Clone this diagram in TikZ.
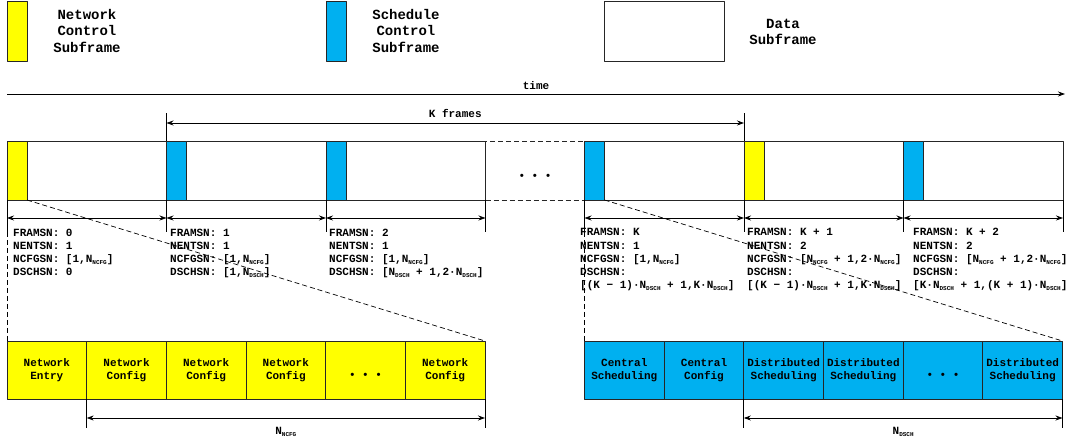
\documentclass[tikz,border=0pt]{standalone}
\usepackage{fontspec}
\setmonofont{Liberation Mono}
\usetikzlibrary{arrows.meta,positioning,calc}
\definecolor{ncyellow}{HTML}{FFFF00}
\definecolor{scblue}{HTML}{00B0F0}
\newcommand{\Nsub}[1]{N\raisebox{-0.3ex}{\fontsize{6}{6}\selectfont#1}}
\tikzset{
  box/.style={draw=black!85, line width=0.8pt, inner sep=0pt, outer sep=0pt, anchor=north west},
  frm/.style={box, minimum width=159.5pt, minimum height=59pt},
  ctl/.style={box, minimum width=20pt, minimum height=59pt},
  cell/.style={box, minimum width=79.67pt, minimum height=58pt, align=center},
  dots/.style={text height=18pt, text depth=0pt},
  lbl/.style={anchor=base west, align=left, inner sep=0pt},
  legtxt/.style={align=center, font=\ttfamily\bfseries\fontsize{14}{16.7}\selectfont},
  dim/.style={<->, line width=0.8pt},
  tick/.style={line width=0.8pt},
  zoomln/.style={dash pattern=on 5pt off 3pt, line width=0.7pt}
}
\begin{document}
\begin{tikzpicture}[x=1pt, y=-1pt, font=\ttfamily\bfseries\fontsize{11}{13.3}\selectfont, line join=round, >={Stealth[length=7pt,width=5pt]}]
  \useasboundingbox (0,0) rectangle (1080,443);
  % legend
  \node[ctl, fill=ncyellow, minimum height=60pt] (lgN) at (7,1.5) {};
  \node[legtxt] (lgNt) at (87,31) {Network\\Control\\Subframe};
  \node[ctl, fill=scblue, minimum height=60pt] (lgS) at (326,1.5) {};
  \node[legtxt] (lgSt) at (406,31) {Schedule\\Control\\Subframe};
  \node[box, minimum width=120pt, minimum height=60pt] (lgD) at (604,1.5) {};
  \node[legtxt] (lgDt) at (783,32) {Data\\Subframe};
  % time axis
  \coordinate (t0) at (7,94);
  \coordinate (t1) at (1065,94);
  \draw[->, line width=0.8pt] (t0) -- (t1) node[midway, above=1pt] {time};
  % frames
  \node[frm] (f0) at (7,141) {};
  \node[frm] (f1) at (166.5,141) {};
  \node[frm] (f2) at (326,141) {};
  \node[frm, fill=white, dash pattern=on 5pt off 3pt, minimum width=99pt, dots] (gap) at (485.5,141) {• • •};
  \node[frm] (fK) at (584.5,141) {};
  \node[frm] (fK1) at (744,141) {};
  \node[frm] (fK2) at (903.5,141) {};
  \node[ctl, fill=ncyellow] (c0) at (f0.north west) {};
  \node[ctl, fill=scblue] (c1) at (f1.north west) {};
  \node[ctl, fill=scblue] (c2) at (f2.north west) {};
  \node[ctl, fill=scblue] (cK) at (fK.north west) {};
  \node[ctl, fill=ncyellow] (cK1) at (fK1.north west) {};
  \node[ctl, fill=scblue] (cK2) at (fK2.north west) {};
  % K frames
  \draw[tick] (f1.north west) -- ++(0,-28) coordinate (kA);
  \draw[tick] (fK1.north west) -- ++(0,-28) coordinate (kB);
  \draw[dim] ($(kA)+(0,10)$) -- ($(kB)+(0,10)$) node[midway, above=2pt] {K frames};
  \foreach \f in {f0,f1,f2,fK,fK1,fK2} {
    \draw[tick] (\f.south west) -- ++(0,32);
    \draw[tick] (\f.south east) -- ++(0,32);
    \draw[dim] ([yshift=-18pt]\f.south west) -- ([yshift=-18pt]\f.south east);
  }
  % sequence numbers
  \node[lbl] (s0) at (13,276) {FRAMSN: 0\\NENTSN: 1\\NCFGSN: {}[1,\Nsub{NCFG}]\\DSCHSN: 0};
  \node[lbl] (s1) at (170,276) {FRAMSN: 1\\NENTSN: 1\\NCFGSN: {}[1,\Nsub{NCFG}]\\DSCHSN: {}[1,\Nsub{DSCH}]};
  \node[lbl] (s2) at (329,276) {FRAMSN: 2\\NENTSN: 1\\NCFGSN: {}[1,\Nsub{NCFG}]\\DSCHSN: {}[\Nsub{DSCH} + 1,2·\Nsub{DSCH}]};
  \node[lbl] (sK) at (580,289) {FRAMSN: K\\NENTSN: 1\\NCFGSN: {}[1,\Nsub{NCFG}]\\DSCHSN:\\{}[(K − 1)·\Nsub{DSCH} + 1,K·\Nsub{DSCH}]};
  \node[lbl] (sK1) at (747,289) {FRAMSN: K + 1\\NENTSN: 2\\NCFGSN: {}[\Nsub{NCFG} + 1,2·\Nsub{NCFG}]\\DSCHSN:\\{}[(K − 1)·\Nsub{DSCH} + 1,K·\Nsub{DSCH}]};
  \node[lbl] (sK2) at (913,289) {FRAMSN: K + 2\\NENTSN: 2\\NCFGSN: {}[\Nsub{NCFG} + 1,2·\Nsub{NCFG}]\\DSCHSN:\\{}[K·\Nsub{DSCH} + 1,(K + 1)·\Nsub{DSCH}]};
  % network control subframe
  \node[cell, fill=ncyellow] (y1) at (7,341) {Network\\Entry};
  \node[cell, fill=ncyellow] (y2) at (y1.north east) {Network\\Config};
  \node[cell, fill=ncyellow] (y3) at (y2.north east) {Network\\Config};
  \node[cell, fill=ncyellow] (y4) at (y3.north east) {Network\\Config};
  \node[cell, fill=ncyellow, dots] (y5) at (y4.north east) {• • •};
  \node[cell, fill=ncyellow] (y6) at (y5.north east) {Network\\Config};
  % schedule control subframe
  \node[cell, fill=scblue] (b1) at (584.5,341) {Central\\Scheduling};
  \node[cell, fill=scblue] (b2) at (b1.north east) {Central\\Config};
  \node[cell, fill=scblue] (b3) at (b2.north east) {Distributed\\Scheduling};
  \node[cell, fill=scblue] (b4) at (b3.north east) {Distributed\\Scheduling};
  \node[cell, fill=scblue, dots] (b5) at (b4.north east) {• • •};
  \node[cell, fill=scblue] (b6) at (b5.north east) {Distributed\\Scheduling};
  \draw[zoomln] (c0.south west) -- (y1.north west);
  \draw[zoomln] (c0.south east) -- (y6.north east);
  \draw[zoomln] (cK.south west) -- (b1.north west);
  \draw[zoomln] (cK.south east) -- (b6.north east);
  % counts
  \draw[tick] (y2.south west) -- ++(0,29);
  \draw[tick] (y6.south east) -- ++(0,29);
  \draw[dim] ([yshift=-19pt]y2.south west) -- ([yshift=-19pt]y6.south east) node[midway, below=6pt] {\Nsub{NCFG}};
  \draw[tick] (b3.south west) -- ++(0,29);
  \draw[tick] (b6.south east) -- ++(0,29);
  \draw[dim] ([yshift=-19pt]b3.south west) -- ([yshift=-19pt]b6.south east) node[midway, below=6pt] {\Nsub{DSCH}};
\end{tikzpicture}
\end{document}
